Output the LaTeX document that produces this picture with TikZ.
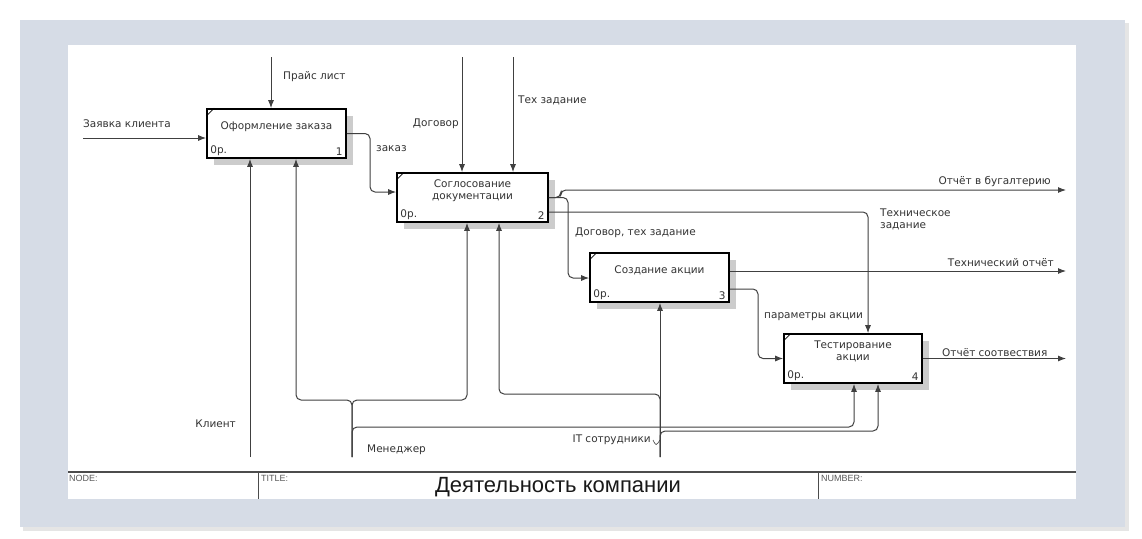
\documentclass[tikz,border=0pt]{standalone}
\usepackage{fontspec}
\setmainfont{DejaVu Sans}
\newfontfamily\titlefont{Liberation Sans}
\usepackage{tikz}
\usetikzlibrary{arrows.meta}
\usetikzlibrary{calc}
\usetikzlibrary{shadows}
\tikzset{>={Latex[length=8pt,width=6pt]}}
\definecolor{framebg}{RGB}{214,220,230}
\tikzstyle{func} = [draw, line width=1.6pt, fill=white, minimum height=49pt,
    inner sep=0pt, general shadow={fill=gray!40, shadow xshift=7pt, shadow yshift=-7pt}]
\tikzstyle{lbl} = [font=\fontsize{10.5}{12}\selectfont, text=black!80,
    inner sep=0pt, align=center]
\tikzstyle{flow} = [draw=black!75, line width=1pt, rounded corners=5pt, ->]
\tikzstyle{tbl} = [font=\titlefont\fontsize{9}{10}\selectfont, text=black!65,
    inner sep=0pt, anchor=north west]

\begin{document}
\begin{tikzpicture}[x=1pt, y=-1pt]
\useasboundingbox (0,0) rectangle (1142,538);
\begin{scope}
    %frame
    \fill[white] (0,0) rectangle (1142,538);
    \fill[black!10] (23,23) rectangle (1129,531);
    \fill[framebg] (20,20) rectangle (1125,527);
    \fill[white] (68,45) rectangle (1076,499);

    %title bar
    \draw[black!70, line width=1.3pt] (68,472) -- (1076,472);
    \draw[black!70, line width=0.8pt] (258,472) -- (258,499);
    \draw[black!70, line width=0.8pt] (818,472) -- (818,499);
    \node[tbl] (nodetxt) at (69,475) {NODE:};
    \node[tbl] (titletxt) at (261,475) {TITLE:};
    \node[tbl] (numtxt) at (821,475) {NUMBER:};
    \node[font=\titlefont\fontsize{22}{24}\selectfont, text=black!90, inner sep=0pt]
        (title) at (558,487) {Деятельность компании};

    %boxes
    \node[func, minimum width=139pt,
        label={[lbl, anchor=center, yshift=-18pt]north:Оформление заказа},
        label={[lbl, anchor=south west, xshift=4pt, yshift=3pt]south west:0р.},
        label={[lbl, anchor=south east, xshift=-4pt, yshift=3pt]south east:1}]
        (b1) at (276.5,133.5) {};
    \node[func, minimum width=151pt,
        label={[lbl, anchor=center, yshift=-18pt]north:{Соглосование\\документации}},
        label={[lbl, anchor=south west, xshift=4pt, yshift=3pt]south west:0р.},
        label={[lbl, anchor=south east, xshift=-4pt, yshift=3pt]south east:2}]
        (b2) at (472.5,197.5) {};
    \node[func, minimum width=139pt,
        label={[lbl, anchor=center, yshift=-18pt]north:Создание акции},
        label={[lbl, anchor=south west, xshift=4pt, yshift=3pt]south west:0р.},
        label={[lbl, anchor=south east, xshift=-4pt, yshift=3pt]south east:3}]
        (b3) at (659.5,277.5) {};
    \node[func, minimum width=138pt,
        label={[lbl, anchor=center, yshift=-18pt]north:{Тестирование\\акции}},
        label={[lbl, anchor=south west, xshift=4pt, yshift=3pt]south west:0р.},
        label={[lbl, anchor=south east, xshift=-4pt, yshift=3pt]south east:4}]
        (b4) at (853,358.5) {};
    \foreach \b in {b1,b2,b3,b4}
        \draw[line width=0.8pt] ([yshift=-8pt]\b.north west) -- ([xshift=8pt]\b.north west);

    %inputs and controls
    \coordinate (zk) at (83,138);
    \draw[flow] (zk) -- (zk -| b1.west);
    \node[lbl, anchor=west] (zkl) at (83,124) {Заявка клиента};
    \coordinate (pl) at (271,57);
    \draw[flow] (pl) -- (pl |- b1.north);
    \node[lbl, anchor=west] (pll) at (283,77) {Прайс лист};
    \coordinate (dg) at (462,57);
    \draw[flow] (dg) -- (dg |- b2.north);
    \node[lbl, anchor=east] (dgl) at (459,124) {Договор};
    \coordinate (tz) at (513,57);
    \draw[flow] (tz) -- (tz |- b2.north);
    \node[lbl, anchor=west] (tzl) at (518,100) {Тех задание};

    %between boxes
    \coordinate (zak) at (370,192);
    \draw[flow] (b1.east) -| (zak) -- (zak -| b2.west);
    \node[lbl, anchor=west] (zakl) at (376,149) {заказ};
    \coordinate (dtz) at (568,278);
    \draw[flow] (b2.east) -| (dtz) -- (dtz -| b3.west);
    \node[lbl, anchor=west] (dtzl) at (575,233) {Договор, тех задание};
    \coordinate (tzd) at (868,212);
    \draw[flow] (b2.east |- tzd) -| (tzd |- b4.north);
    \node[lbl, anchor=north west, align=left] (tzdl) at (880,209) {Техническое\\задание};
    \coordinate (par) at (758,289);
    \draw[flow] (b3.east |- par) -- (par) |- (b4.west);
    \node[lbl, anchor=west] (parl) at (764,317) {параметры акции};

    %outputs
    \coordinate (buh) at (1066,190);
    \draw[flow] (b2.east) -- ++(12,0) |- (buh);
    \node[lbl, anchor=east] (buhl) at (1051,182) {Отчёт в бугалтерию};
    \coordinate (teh) at (1066,271);
    \draw[flow] (b3.east |- teh) -- (teh);
    \node[lbl, anchor=east] (tehl) at (1054,263) {Технический отчёт};
    \coordinate (sootv) at (1066,358.5);
    \draw[flow] (b4.east) -- (sootv);
    \node[lbl, anchor=west] (sootvl) at (942,353) {Отчёт соотвествия};

    %mechanisms
    \coordinate (kl) at (250,457);
    \draw[flow] (kl) -- (kl |- b1.south);
    \node[lbl, anchor=east] (kll) at (236,424) {Клиент};
    \coordinate (men) at (352,457);
    \coordinate (m1) at (296,400);
    \coordinate (m2) at (467,400);
    \coordinate (m3) at (854,427);
    \draw[flow] (men) |- (m1) -- (m1 |- b1.south);
    \draw[flow] (men) |- (m2) -- (m2 |- b2.south);
    \draw[flow] (men) |- (m3) -- (m3 |- b4.south);
    \node[lbl, anchor=west] (menl) at (367,450) {Менеджер};
    \coordinate (it) at (660,457);
    \coordinate (i1) at (499,394);
    \coordinate (i2) at (878,431);
    \draw[flow] (it) -- (it |- b3.south);
    \draw[flow] (it) |- (i1) -- (i1 |- b2.south);
    \draw[flow] (it) |- (i2) -- (i2 |- b4.south);
    \node[lbl, anchor=east] (itl) at (651,440) {IT сотрудники};
    \draw[black!75, line width=0.6pt] ([xshift=2pt]itl.east) .. controls (656,446) .. (it |- itl.east);
\end{scope}
\end{tikzpicture}
\end{document}
